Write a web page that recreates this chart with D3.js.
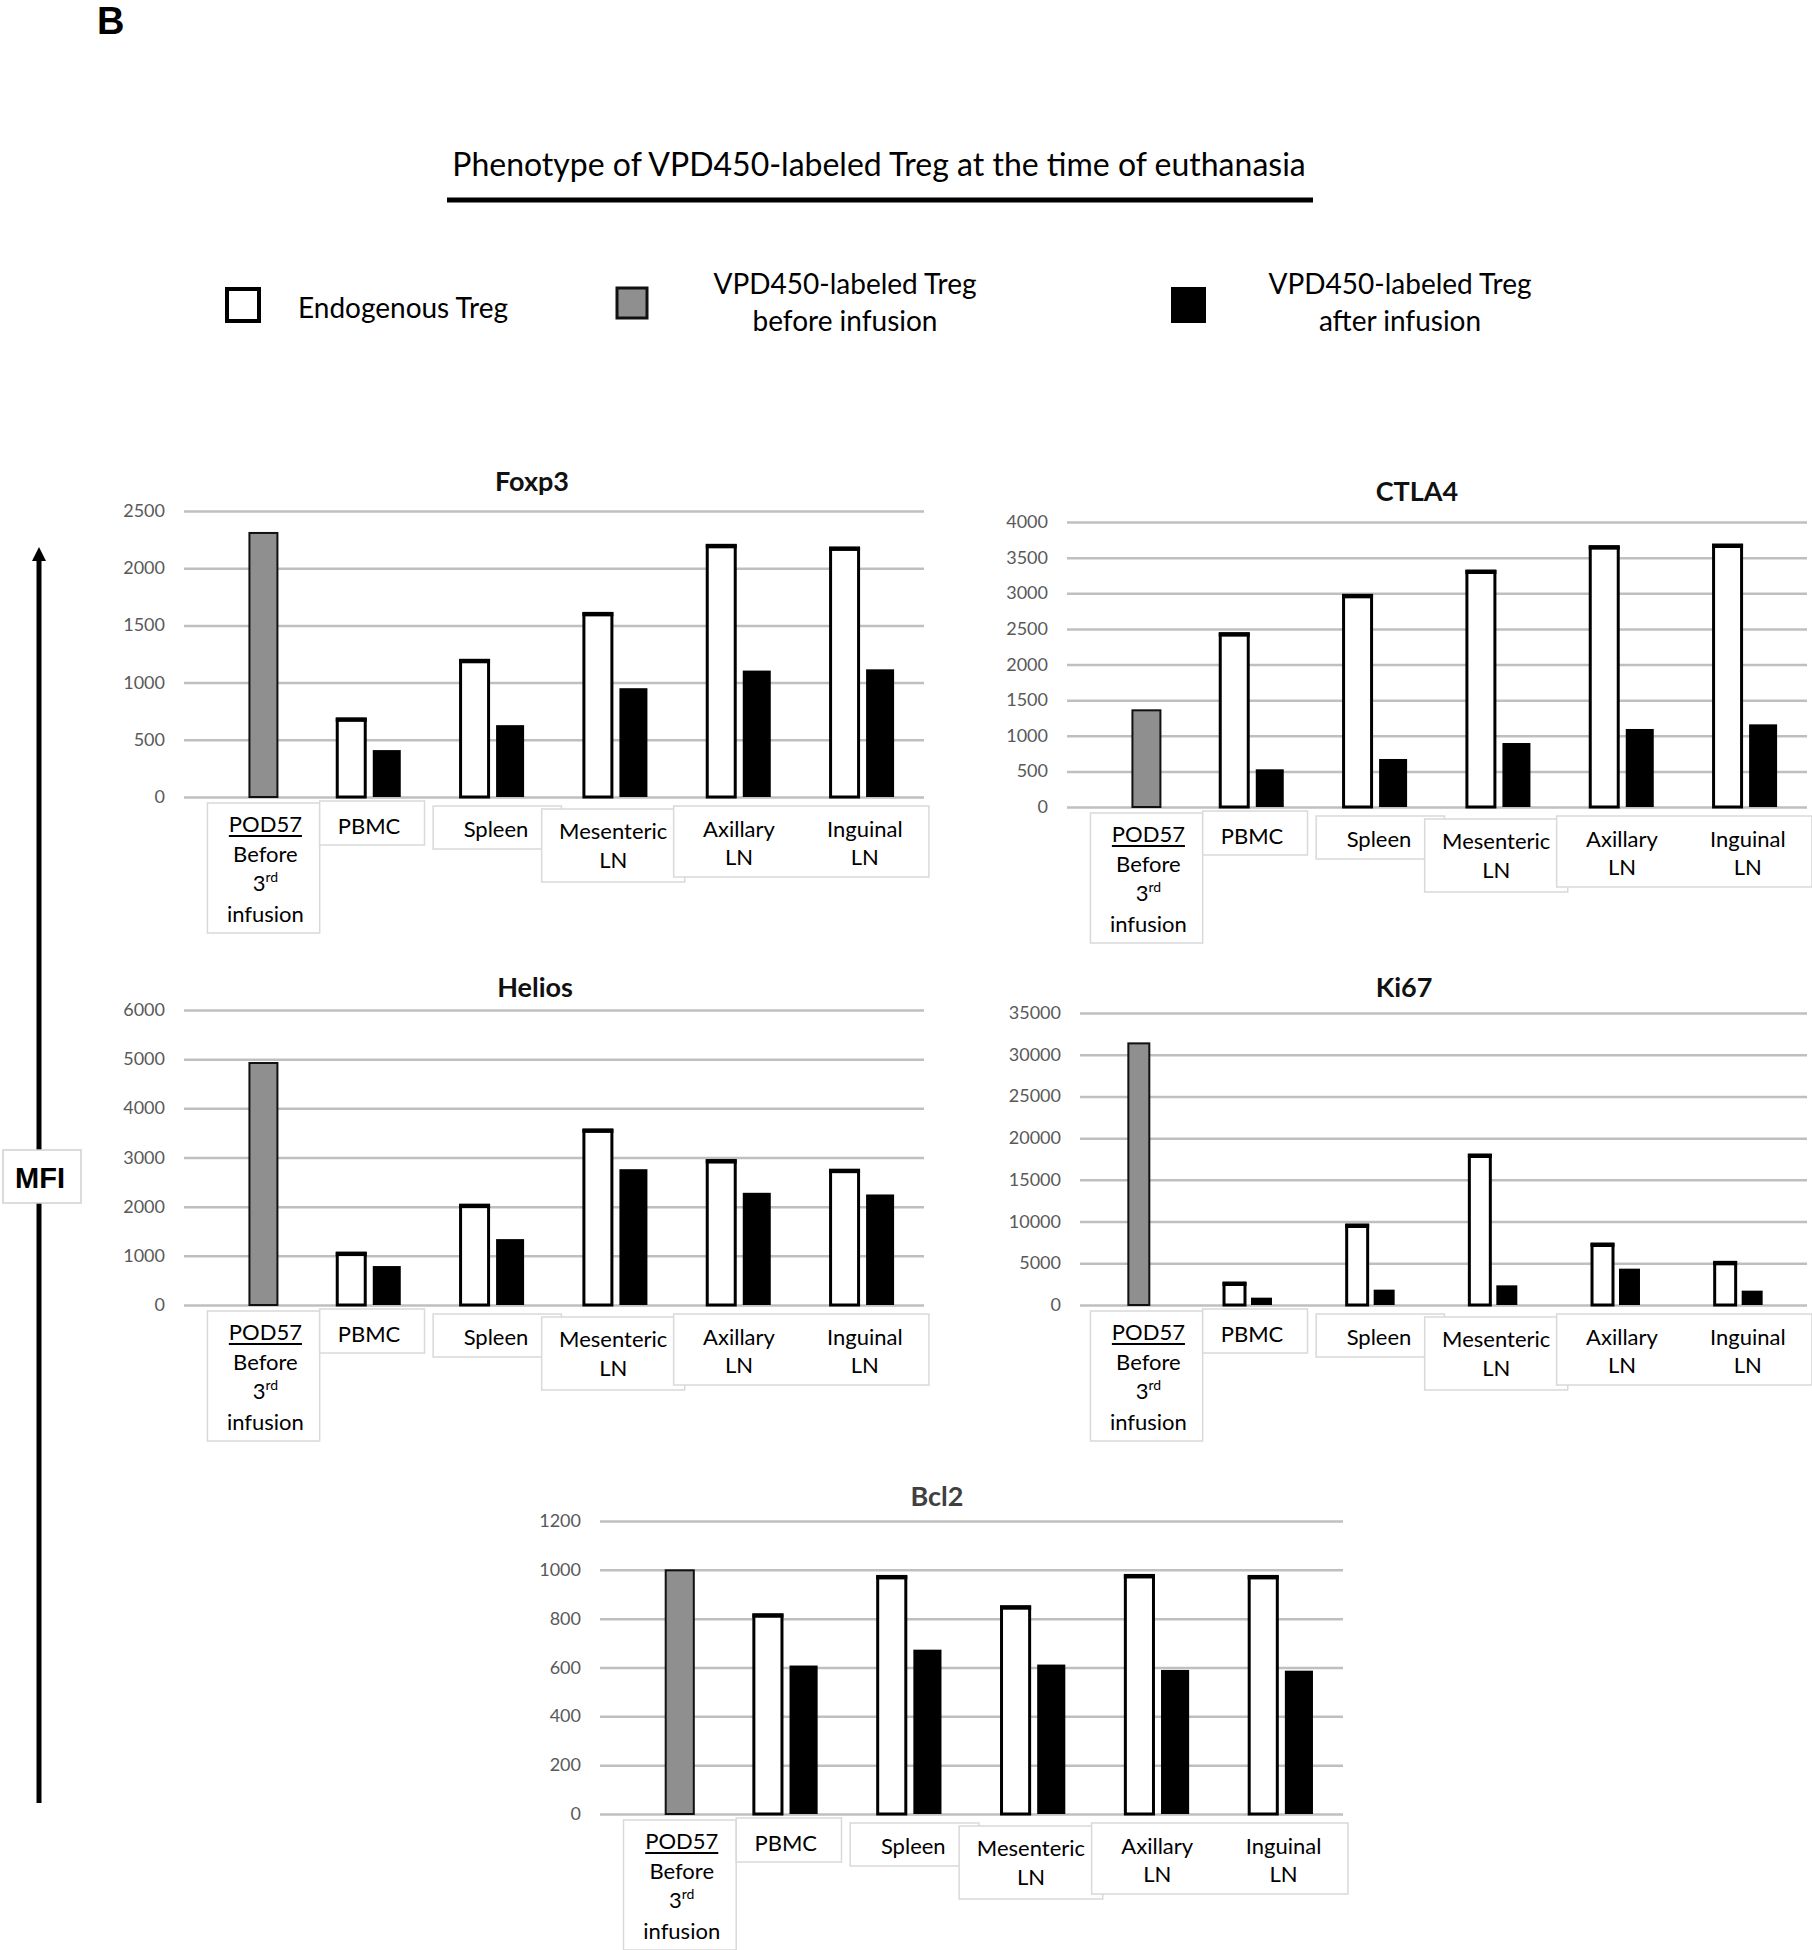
<!DOCTYPE html>
<html>
<head>
<meta charset="utf-8">
<script src="https://cdn.jsdelivr.net/npm/d3@7"></script>
<style>
  body { margin: 0; background: #fff; }
  svg { display: block; font-family: Lato, "Open Sans", sans-serif; }
  .tick-label { fill: #595959; font-size: 18px; }
  .cat-label { fill: #000; font-size: 22px; }
  .panel-title { font-size: 27px; font-weight: bold; }
</style>
</head>
<body>
<svg width="1812" height="1950"></svg>
<script>
// categories and label lines
const categories = ["POD57", "PBMC", "Spleen", "Mesenteric LN", "Axillary LN", "Inguinal LN"];
const catLabels = [["POD57", "Before", "3rd", "infusion"], ["PBMC"], ["Spleen"], ["Mesenteric", "LN"], ["Axillary", "LN"], ["Inguinal", "LN"]];

// MFI values (endogenous; VPD450 labelled - first value is "before infusion")
const foxp3Endo = [null, 683, 1195, 1605, 2200, 2177];
const foxp3Vpd  = [2308, 410, 628, 951, 1105, 1116];
const ctla4Endo = [null, 2433, 2971, 3312, 3654, 3677];
const ctla4Vpd  = [1357, 529, 674, 898, 1095, 1160];
const heliosEndo = [null, 1056, 2031, 3561, 2938, 2742];
const heliosVpd  = [4922, 792, 1340, 2762, 2282, 2248];
const ki67Endo = [null, 2637, 9590, 17980, 7311, 5114];
const ki67Vpd  = [31360, 879, 1838, 2357, 4355, 1718];
const bcl2Endo = [null, 816, 973, 849, 977, 973];
const bcl2Vpd  = [998, 608, 673, 612, 590, 587];

// tick labels
const foxp3Ticks = [0, 500, 1000, 1500, 2000, 2500];
const ctla4Ticks = [0, 500, 1000, 1500, 2000, 2500, 3000, 3500, 4000];
const heliosTicks = [0, 1000, 2000, 3000, 4000, 5000, 6000];
const ki67Ticks = [0, 5000, 10000, 15000, 20000, 25000, 30000, 35000];
const bcl2Ticks = [0, 200, 400, 600, 800, 1000, 1200];

// panel placement
const panels = [
  { name: "Foxp3",  endo: foxp3Endo,  vpd: foxp3Vpd,  ticks: foxp3Ticks,  x0: 184,  x1: 924,  yTop: 511,  y0: 797,  tx: 532,  ty: 482 },
  { name: "CTLA4",  endo: ctla4Endo,  vpd: ctla4Vpd,  ticks: ctla4Ticks,  x0: 1067, x1: 1807, yTop: 522,  y0: 807,  tx: 1417, ty: 492 },
  { name: "Helios", endo: heliosEndo, vpd: heliosVpd, ticks: heliosTicks, x0: 184,  x1: 924,  yTop: 1010, y0: 1305, tx: 535,  ty: 988 },
  { name: "Ki67",   endo: ki67Endo,   vpd: ki67Vpd,   ticks: ki67Ticks,   x0: 1064, x1: 1800, yTop: 1013, y0: 1305, tx: 1404, ty: 988,
    gx0: 1080, gx1: 1807, lx0: 1067, lx1: 1807, pIn: 0.223, pOut: 1.384 },
  { name: "Bcl2",   endo: bcl2Endo,   vpd: bcl2Vpd,   ticks: bcl2Ticks,   x0: 600,  x1: 1343, yTop: 1521, y0: 1814, tx: 937,  ty: 1497, titleColor: "#404040" }
];

// text-box look under the x axis (band units / px below zero line)
const boxLayout = [
  { x: [0.19, 1.1],  y: [6, 136] },
  { x: [1.1, 1.95],  y: [4, 48] },
  { x: [2.02, 3.06], y: [9, 52] },
  { x: [2.9, 4.06],  y: [12, 85] },
  { x: [3.97, 6.04], y: [9, 80] }
];
const labelX = [0.66, 1.5, 2.53, 3.48, 4.5, 5.52];
const labelY = [[28, 58, 87, 118], [30], [33], [35, 64], [33, 61], [33, 61]];

const GRAY = "#8f8f8f";
const svg = d3.select("svg");

// panel letter, title, underline
svg.append("text").attr("x", 97).attr("y", 34)
  .style("font-family", "Liberation Sans, Arial, sans-serif")
  .style("font-weight", "bold").style("font-size", "38px").text("B");

svg.append("text").attr("x", 879).attr("y", 176).attr("text-anchor", "middle")
  .style("font-size", "32px").text("Phenotype of VPD450-labeled Treg at the time of euthanasia");
svg.append("line").attr("x1", 447).attr("x2", 1313).attr("y1", 200).attr("y2", 200)
  .attr("stroke", "#000").attr("stroke-width", 5);

// legend
const legend = svg.append("g");
legend.append("rect").attr("x", 227).attr("y", 289).attr("width", 32).attr("height", 32)
  .attr("fill", "#fff").attr("stroke", "#000").attr("stroke-width", 4);
legend.append("text").attr("x", 298).attr("y", 318).style("font-size", "28px").text("Endogenous Treg");
legend.append("rect").attr("x", 617).attr("y", 288).attr("width", 30).attr("height", 30)
  .attr("fill", GRAY).attr("stroke", "#111").attr("stroke-width", 3);
legend.append("text").attr("x", 845).attr("y", 294).attr("text-anchor", "middle").style("font-size", "28px").text("VPD450-labeled Treg");
legend.append("text").attr("x", 845).attr("y", 331).attr("text-anchor", "middle").style("font-size", "28px").text("before infusion");
legend.append("rect").attr("x", 1171).attr("y", 287).attr("width", 35).attr("height", 36).attr("fill", "#000");
legend.append("text").attr("x", 1400).attr("y", 294).attr("text-anchor", "middle").style("font-size", "28px").text("VPD450-labeled Treg");
legend.append("text").attr("x", 1400).attr("y", 331).attr("text-anchor", "middle").style("font-size", "28px").text("after infusion");

// MFI arrow
svg.append("line").attr("x1", 39).attr("x2", 39).attr("y1", 1803).attr("y2", 556)
  .attr("stroke", "#000").attr("stroke-width", 5);
svg.append("path").attr("d", "M39,547 L32,561 L46,561 Z").attr("fill", "#000");
svg.append("rect").attr("x", 3).attr("y", 1150).attr("width", 78).attr("height", 53)
  .attr("fill", "#fff").attr("stroke", "#d0d0d0").attr("stroke-width", 1.5);
svg.append("text").attr("x", 40).attr("y", 1188).attr("text-anchor", "middle")
  .style("font-family", "Liberation Sans, Arial, sans-serif")
  .style("font-weight", "bold").style("font-size", "29px").text("MFI");

panels.forEach(function(p) {
  const g = svg.append("g");
  const yMax = d3.max(p.ticks);
  const gx0 = p.gx0 || p.x0, gx1 = p.gx1 || p.x1;
  const lx0 = p.lx0 || p.x0, lx1 = p.lx1 || p.x1;

  const x = d3.scaleBand().domain(categories).range([p.x0, p.x1]);
  const band = x.step();
  const lband = (lx1 - lx0) / categories.length;
  const xs = d3.scaleBand().domain(["endo", "vpd"]).range([0, band])
    .paddingInner(p.pIn || 0.212).paddingOuter(p.pOut || 0.842);
  const y = d3.scaleLinear().domain([0, yMax]).range([p.y0, p.yTop]);

  // gridlines
  g.append("g")
    .attr("transform", `translate(${gx0},0)`)
    .call(d3.axisLeft(y).tickValues(p.ticks).tickSize(-(gx1 - gx0)).tickFormat(""))
    .call(a => a.select(".domain").remove())
    .call(a => a.selectAll("line").attr("stroke", "#bfbfbf").attr("stroke-width", 2.5));

  // tick labels
  g.selectAll(".tick-label").data(p.ticks).enter().append("text")
    .attr("class", "tick-label")
    .attr("x", gx0 - 19)
    .attr("y", d => y(d) + 6)
    .attr("text-anchor", "end")
    .text(d => d);

  // bars
  const rows = categories.map((c, i) => ({ cat: c, endo: p.endo[i], vpd: p.vpd[i], first: i === 0 }));
  const endoRows = rows.filter(d => d.endo != null);
  g.selectAll(".endo").data(endoRows).enter().append("rect")
    .attr("x", d => x(d.cat) + xs("endo"))
    .attr("y", d => y(d.endo))
    .attr("width", xs.bandwidth())
    .attr("height", d => p.y0 - y(d.endo))
    .attr("fill", "#fff").attr("stroke", "#000").attr("stroke-width", 3);
  // heavier top edge, as in the original export
  g.selectAll(".endo-top").data(endoRows).enter().append("line")
    .attr("x1", d => x(d.cat) + xs("endo") - 1.5)
    .attr("x2", d => x(d.cat) + xs("endo") + xs.bandwidth() + 1.5)
    .attr("y1", d => y(d.endo) + 1).attr("y2", d => y(d.endo) + 1)
    .attr("stroke", "#000").attr("stroke-width", 4);
  g.selectAll(".vpd").data(rows).enter().append("rect")
    .attr("x", d => x(d.cat) + xs("vpd"))
    .attr("y", d => y(d.vpd))
    .attr("width", xs.bandwidth())
    .attr("height", d => p.y0 - y(d.vpd))
    .attr("fill", d => d.first ? GRAY : "#000")
    .attr("stroke", d => d.first ? "#111" : "none")
    .attr("stroke-width", 2);

  // category text boxes
  boxLayout.forEach(function(b) {
    g.append("rect")
      .attr("x", lx0 + b.x[0] * lband).attr("y", p.y0 + b.y[0])
      .attr("width", (b.x[1] - b.x[0]) * lband).attr("height", b.y[1] - b.y[0])
      .attr("fill", "#fff").attr("stroke", "#d9d9d9").attr("stroke-width", 1.5);
  });

  catLabels.forEach(function(lines, i) {
    const cx = lx0 + labelX[i] * lband;
    lines.forEach(function(s, j) {
      const t = g.append("text").attr("class", "cat-label")
        .attr("x", cx).attr("y", p.y0 + labelY[i][j] + 7).attr("text-anchor", "middle");
      if (s === "3rd") {
        t.append("tspan").text("3");
        t.append("tspan").attr("dy", -9).style("font-size", "14px").text("rd");
      } else {
        t.text(s);
      }
      if (i === 0 && j === 0) {
        const w = t.node().getComputedTextLength();
        g.append("line").attr("x1", cx - w / 2).attr("x2", cx + w / 2)
          .attr("y1", p.y0 + labelY[i][j] + 11).attr("y2", p.y0 + labelY[i][j] + 11)
          .attr("stroke", "#000").attr("stroke-width", 2);
      }
    });
  });

  // title
  g.append("text").attr("class", "panel-title")
    .attr("x", p.tx).attr("y", p.ty + 9).attr("text-anchor", "middle")
    .attr("fill", p.titleColor || "#111")
    .text(p.name);
});
</script>
</body>
</html>
